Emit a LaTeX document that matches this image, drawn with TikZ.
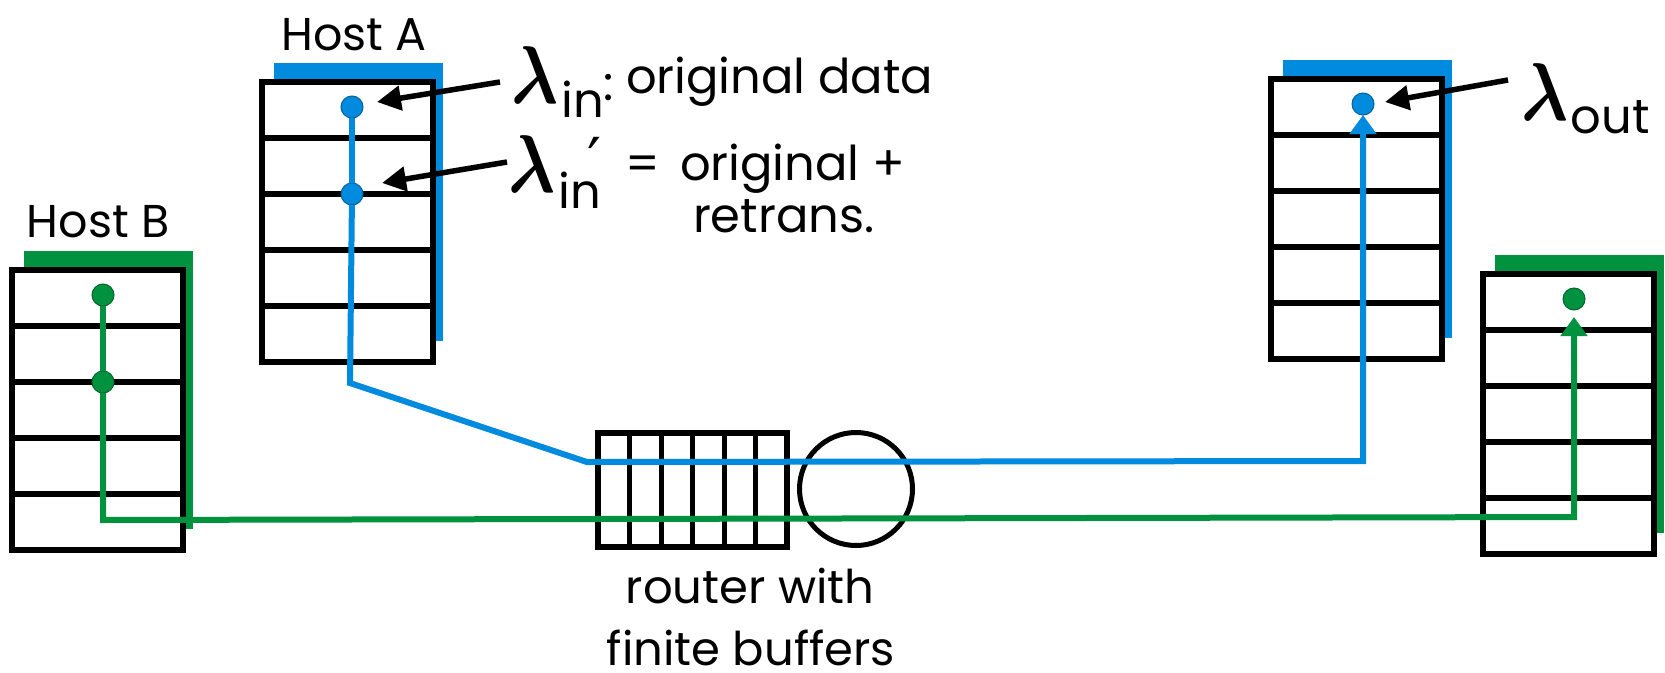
\documentclass[tikz,border=0pt]{standalone}
\usepackage{fontspec}
\setmainfont{Poppins}
\newfontfamily\primefont{DejaVu Sans}
\usetikzlibrary{arrows.meta,calc}
\definecolor{hblue}{RGB}{0,139,222}
\definecolor{hgreen}{RGB}{0,146,63}
\newcommand\hoststack[4]{%
  \fill[#4] (#2+12,#3-19) rectangle (#2+181,#3+259);
  \node[hostbox,anchor=north west] (#1) at (#2,#3) {};
  \foreach \k in {1,...,4}
    \draw[rowline] ($(#1.north west)+(0,56*\k)$) -- ($(#1.north east)+(0,56*\k)$);
}
\newcommand\biglam{\scalebox{7.0}[8.2]{\fontsize{10}{12}\selectfont\boldmath$\lambda$}}
\begin{document}
\begin{tikzpicture}[x=1pt,y=-1pt,
  hostbox/.style={draw=black,fill=white,line width=6pt,minimum width=171pt,minimum height=280pt,inner sep=0pt,outer sep=0pt},
  rowline/.style={line width=5.5pt},
  dot/.style={circle,minimum size=22pt,inner sep=0pt,outer sep=0pt,line width=1pt},
  bluedot/.style={dot,fill=hblue,draw=hblue!70!black},
  greendot/.style={dot,fill=hgreen,draw=hgreen!70!black},
  bluepath/.style={draw=hblue,line width=6pt,line join=miter},
  greenpath/.style={draw=hgreen,line width=6pt,line join=miter},
  colortip/.style={-{Triangle[width=26pt,length=19pt]}},
  blackarrow/.style={draw=black,line width=5.5pt,-{Triangle[width=24pt,length=24pt]}},
  txt/.style={inner sep=0pt,outer sep=0pt,font=\fontsize{48}{56}\selectfont},
  hostlabel/.style={inner sep=0pt,outer sep=0pt,font=\fontsize{46}{54}\selectfont},
  routertxt/.style={inner sep=0pt,outer sep=0pt,font=\fontsize{46.5}{54}\selectfont},
  bufbox/.style={draw=black,fill=white,line width=6pt,minimum width=189pt,minimum height=114pt,inner sep=0pt,outer sep=0pt},
  bufline/.style={line width=5pt},
  server/.style={draw=black,circle,line width=5pt,minimum size=113pt,inner sep=0pt,outer sep=0pt}
]
\useasboundingbox (0,0) rectangle (1665,672);

% hosts and receivers
\hoststack{hostA}{262}{82}{hblue}
\hoststack{hostB}{12}{270}{hgreen}
\hoststack{recvA}{1271}{79}{hblue}
\hoststack{recvB}{1483}{274}{hgreen}

% router
\node[bufbox] (buf) at (692.5,490) {};
\foreach \k in {1,...,5}
  \draw[bufline] ($(buf.north west)+(31.5*\k,0)$) -- ($(buf.south west)+(31.5*\k,0)$);
\node[server] (srv) at (856,489) {};

% dots
\node[bluedot] (a1) at (352,107) {};
\node[bluedot] (a2) at (352,194) {};
\node[greendot] (b1) at (103,295) {};
\node[greendot] (b2) at (103,382) {};
\node[bluedot] (c1) at (1363,104) {};
\node[greendot] (d1) at (1574,299) {};

% paths
\coordinate (bA) at (350,383);
\coordinate (bR) at (587,462);
\coordinate (bC) at (1363,461);
\draw[bluepath] (a1) -- (a2);
\draw[bluepath,colortip] (a2) -- (bA) -- (bR) -- (bC) -- (c1);

\coordinate (gB) at (103,520);
\coordinate (gD) at (1574,517);
\coordinate (dtip) at ($(d1.south)+(0,7)$);
\draw[greenpath] (b1) -- (b2);
\draw[greenpath,colortip] (b2) -- (gB) -- (gD) -- (dtip);

% labels
\node[hostlabel,anchor=base] (labA) at (354,50) {Host A};
\node[hostlabel,anchor=base] (labB) at (98,237) {Host B};

\node[txt,anchor=base west] (l1) at (511,103) {\biglam\kern4pt\raisebox{-14pt}{in}};
\node[txt,anchor=base west] (c1t) at (603,100) {:};
\node[txt,anchor=base west] (t1) at (626,93) {original data};

\node[txt,anchor=base west] (l2) at (508,192)
  {\biglam\kern4pt\raisebox{-16pt}{in}\kern-14pt\raisebox{10pt}{\primefont\fontsize{62}{66}\selectfont ′}};
\node[txt,anchor=base west] (eq) at (625,180) {=};
\node[txt,anchor=base west] (t2) at (680,180) {original +};
\node[txt,anchor=base west] (t3) at (693,232) {retrans.};

\node[txt,anchor=base west] (l3) at (1521,120) {\biglam\kern3pt\raisebox{-13pt}{out}};

\node[routertxt,anchor=base] (r1) at (750,603) {router with};
\node[routertxt,anchor=base] (r2) at (751,665) {finite buffers};

% pointer arrows
\coordinate (q1) at (500,82);
\coordinate (h1) at (377,102);
\coordinate (q2) at (507,162);
\coordinate (h2) at (382,183);
\coordinate (q3) at (1508,80);
\coordinate (h3) at (1385,102);
\draw[blackarrow] (q1) -- (h1);
\draw[blackarrow] (q2) -- (h2);
\draw[blackarrow] (q3) -- (h3);
\end{tikzpicture}
\end{document}
